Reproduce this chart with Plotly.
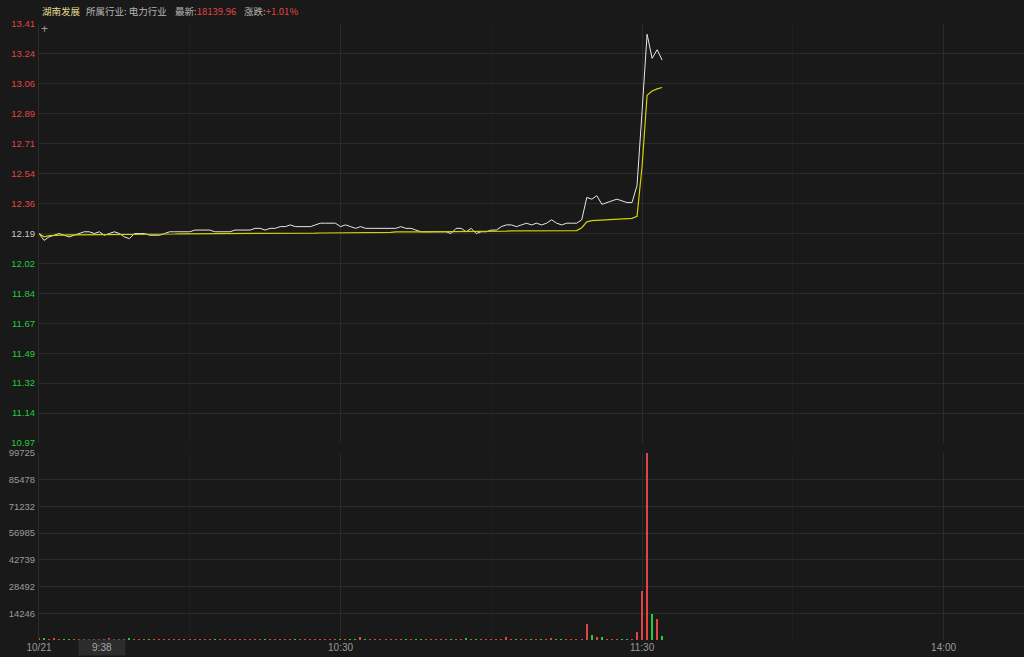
import plotly.graph_objects as go

# ---------------- data ----------------
prev_close = 12.19

price = [
    12.19, 12.15, 12.17, 12.18, 12.19, 12.18, 12.17, 12.18, 12.19, 12.20,
    12.20, 12.19, 12.20, 12.18, 12.19, 12.20, 12.19, 12.17, 12.16, 12.19,
    12.19, 12.19, 12.18, 12.18, 12.18, 12.19, 12.20, 12.20, 12.20, 12.20,
    12.20, 12.21, 12.21, 12.21, 12.21, 12.20, 12.20, 12.20, 12.20, 12.21,
    12.21, 12.21, 12.21, 12.22, 12.22, 12.21, 12.22, 12.22, 12.23, 12.23,
    12.24, 12.23, 12.23, 12.23, 12.23, 12.24, 12.25, 12.25, 12.25, 12.25,
    12.23, 12.24, 12.23, 12.22, 12.23, 12.22, 12.22, 12.22, 12.22, 12.22,
    12.22, 12.22, 12.23, 12.22, 12.22, 12.21, 12.20, 12.20, 12.20, 12.20,
    12.20, 12.20, 12.19, 12.22, 12.22, 12.20, 12.22, 12.19, 12.20, 12.20,
    12.21, 12.21, 12.23, 12.24, 12.24, 12.23, 12.24, 12.25, 12.24, 12.25,
    12.24, 12.25, 12.27, 12.25, 12.24, 12.25, 12.25, 12.25, 12.27, 12.40,
    12.39, 12.41, 12.36, 12.37, 12.38, 12.39, 12.38, 12.37, 12.37, 12.47,
    12.90, 13.35, 13.21, 13.26, 13.20,
]

avg_price = [
    12.190, 12.171, 12.178, 12.180, 12.180, 12.180, 12.182, 12.182, 12.183, 12.183,
    12.183, 12.183, 12.183, 12.183, 12.183, 12.183, 12.183, 12.183, 12.184, 12.184,
    12.185, 12.185, 12.185, 12.185, 12.185, 12.185, 12.186, 12.187, 12.188, 12.188,
    12.188, 12.188, 12.188, 12.189, 12.189, 12.189, 12.189, 12.189, 12.189, 12.189,
    12.188, 12.188, 12.188, 12.188, 12.188, 12.188, 12.188, 12.188, 12.190, 12.191,
    12.191, 12.191, 12.191, 12.191, 12.191, 12.192, 12.193, 12.193, 12.193, 12.193,
    12.193, 12.193, 12.193, 12.194, 12.196, 12.197, 12.197, 12.197, 12.197, 12.197,
    12.197, 12.199, 12.200, 12.200, 12.200, 12.200, 12.200, 12.200, 12.200, 12.201,
    12.203, 12.204, 12.204, 12.204, 12.204, 12.204, 12.204, 12.204, 12.204, 12.204,
    12.204, 12.204, 12.204, 12.204, 12.205, 12.205, 12.205, 12.205, 12.206, 12.206,
    12.206, 12.206, 12.206, 12.206, 12.206, 12.206, 12.206, 12.207, 12.224, 12.258,
    12.265, 12.267, 12.270, 12.272, 12.274, 12.275, 12.275, 12.276, 12.278, 12.290,
    12.580, 12.995, 13.020, 13.032, 13.040,
]

volume = [
    900, 600, 500, 1000, 400, 500, 400, 500, 300, 500,
    400, 300, 500, 400, 900, 300, 400, 500, 600, 400,
    300, 300, 400, 300, 300, 400, 500, 300, 300, 300,
    300, 400, 300, 300, 300, 300, 300, 300, 300, 400,
    300, 300, 300, 400, 300, 300, 400, 300, 400, 300,
    400, 300, 300, 300, 300, 400, 400, 300, 300, 300,
    400, 300, 300, 300, 1500, 300, 300, 300, 300, 300,
    300, 300, 400, 300, 300, 300, 400, 300, 300, 300,
    300, 300, 300, 500, 400, 1200, 400, 400, 300, 300,
    400, 300, 400, 1400, 300, 300, 400, 400, 300, 400,
    300, 400, 800, 400, 300, 400, 300, 300, 500, 8600,
    2700, 1400, 1400, 500, 500, 500, 400, 400, 500, 4200,
    26200, 99725, 13700, 11000, 2400,
]

price_labels = ["13.41", "13.24", "13.06", "12.89", "12.71", "12.54", "12.36", "12.19",
                "12.02", "11.84", "11.67", "11.49", "11.32", "11.14", "10.97"]
volume_labels = ["14246", "28492", "42739", "56985", "71232", "85478", "99725"]
time_labels = ["10/21", "10:30", "11:30", "14:00"]
time_positions = [0, 60, 120, 180]      # minutes from 9:30 (lunch break removed)
visible_minutes = 196

stock_name = "湖南发展"
industry = "所属行业: 电力行业"
latest_value = "18139.96"
change_pct = "+1.01%"
cursor_time = "9:38"

# ---------------- style ----------------
W, H = 1024, 657
L, R, T, B = 39, 0, 24, 17
PW, PH = W - L - R, H - T - B
BG = "#191919"
GRID = "#2b2b2b"
GRID_MINOR = "#1f1f1f"
RED = "#e04545"
GREEN = "#22cc3a"
GRAY = "#9a9a9a"
FONT = "Liberation Sans, Arial, sans-serif"
CJK = "Noto Sans CJK SC, sans-serif"


def px_x(x):
    return (x - L) / PW


def px_y(y):
    return (H - B - y) / PH


minutes = list(range(len(price)))

bar_colors = []
for i, p in enumerate(price):
    ref = prev_close if i == 0 else price[i - 1]
    bar_colors.append(RED if p >= ref else GREEN)

fig = go.Figure()
fig.add_trace(go.Scatter(x=minutes, y=price, mode="lines",
                         line=dict(color="#e6e6e6", width=1), xaxis="x", yaxis="y",
                         hoverinfo="skip"))
fig.add_trace(go.Scatter(x=minutes, y=avg_price, mode="lines",
                         line=dict(color="#d2d200", width=1.2), xaxis="x", yaxis="y",
                         hoverinfo="skip"))
fig.add_trace(go.Bar(x=minutes, y=volume, marker=dict(color=bar_colors, line=dict(width=0)),
                     width=0.3, xaxis="x2", yaxis="y2", hoverinfo="skip"))

# price axis ticks
lo, hi = float(price_labels[-1]), float(price_labels[0])
n = len(price_labels) - 1
price_tickvals = [hi - i * (hi - lo) / n for i in range(n + 1)]
price_ticktext = []
for lab in price_labels:
    v = float(lab)
    c = RED if v > prev_close + 1e-9 else (GREEN if v < prev_close - 1e-9 else "#c8c8c8")
    price_ticktext.append(f"<span style='color:{c}'>{lab}</span>")

vol_max = float(volume_labels[-1])
vol_tickvals = [float(v) for v in volume_labels]

price_bottom = px_y(443)
vol_top = px_y(453)

xcommon = dict(range=[0, visible_minutes], tickmode="array", tickvals=time_positions,
               showgrid=True, gridcolor=GRID, gridwidth=1, zeroline=False,
               showline=False, fixedrange=True,
               minor=dict(tickmode="linear", tick0=0, dtick=30, showgrid=True,
                          gridcolor=GRID_MINOR, gridwidth=1))

fig.update_layout(
    width=W, height=H,
    margin=dict(l=L, r=R, t=T, b=B, pad=0),
    paper_bgcolor=BG, plot_bgcolor=BG,
    showlegend=False, bargap=0,
    xaxis=dict(domain=[0, 1], anchor="y", showticklabels=False, **xcommon),
    xaxis2=dict(domain=[0, 1], anchor="y2", showticklabels=True, ticktext=time_labels,
                tickfont=dict(family=FONT, size=10, color=GRAY), ticks="", **xcommon),
    yaxis=dict(domain=[price_bottom, 1], range=[lo, hi], tickmode="array",
               tickvals=price_tickvals, ticktext=price_ticktext, ticks="",
               tickfont=dict(family=FONT, size=9.5), showgrid=True, gridcolor=GRID,
               zeroline=False, showline=True, linecolor=GRID, ticklabelstandoff=1,
               fixedrange=True),
    yaxis2=dict(domain=[0, vol_top], range=[0, vol_max], tickmode="array",
                tickvals=vol_tickvals, ticktext=volume_labels, ticks="",
                tickfont=dict(family=FONT, size=9.5, color=GRAY), showgrid=True,
                gridcolor=GRID, zeroline=False, showline=True, linecolor=GRID,
                ticklabelstandoff=1, fixedrange=True),
)

# previous close reference line
fig.add_shape(type="line", xref="paper", yref="y", x0=0, x1=1, y0=prev_close, y1=prev_close,
              line=dict(color="#4a4a4a", width=1), layer="below")

# header
hy = px_y(11)
header = [
    (41, stock_name, "#e2d98e"),
    (85, industry, "#b4b4b4"),
    (174, f"最新:<span style='color:{RED}'>{latest_value}</span>", "#b4b4b4"),
    (243, f"涨跌:<span style='color:{RED}'>{change_pct}</span>", "#b4b4b4"),
]
for xp, txt, col in header:
    fig.add_annotation(xref="paper", yref="paper", x=px_x(xp), y=hy, xanchor="left",
                       yanchor="middle", align="left", text=txt, showarrow=False,
                       borderpad=0, font=dict(family=CJK, size=9.5, color=col))

# crosshair marker and time tag
fig.add_annotation(xref="paper", yref="paper", x=px_x(44), y=px_y(29), xanchor="center",
                   yanchor="middle", text="+", showarrow=False,
                   font=dict(family=FONT, size=12, color="#9a9a9a"))
fig.add_annotation(xref="paper", yref="paper", x=px_x(102), y=px_y(648), xanchor="center",
                   yanchor="middle", text=cursor_time, showarrow=False, width=44, height=13,
                   bgcolor="#2c2c2c", font=dict(family=FONT, size=10, color="#a8a8a8"))

fig.write_html("out.html", config={"displayModeBar": False},
               post_script="document.body.style.margin='0';document.body.style.overflow='hidden';")
